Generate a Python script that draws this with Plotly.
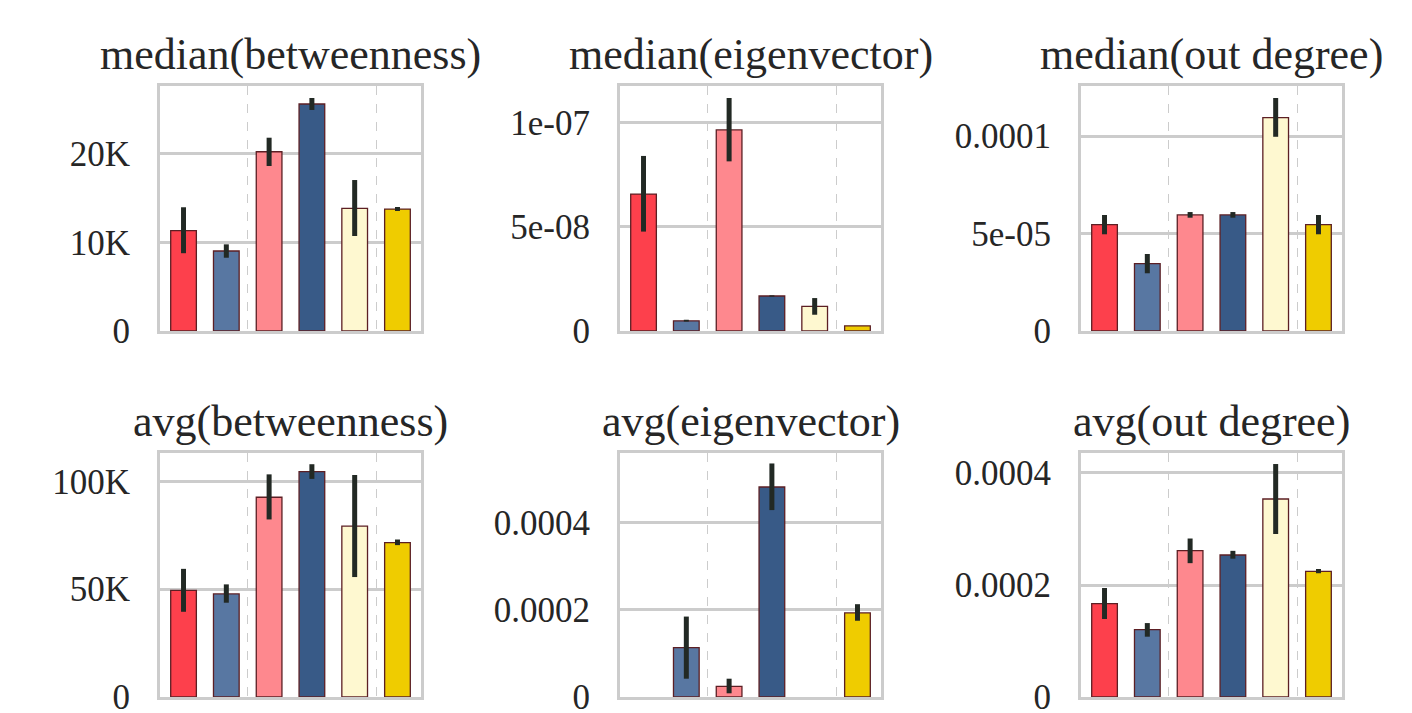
import plotly.graph_objects as go

W, H = 1412, 713

titles = ["median(betweenness)", "median(eigenvector)", "median(out degree)",
          "avg(betweenness)", "avg(eigenvector)", "avg(out degree)"]

bar_colors = ["#fd404c", "#5877a2", "#fe888e", "#385a87", "#fef8d0", "#efcc00"]
categories = [0, 1, 2, 3, 4, 5]

# values, CI lower, CI upper per panel
med_btw = [11310, 9020, 20210, 25590, 13830, 13750]
med_btw_lo = [8770, 8260, 18600, 24920, 10710, 13530]
med_btw_hi = [13950, 9770, 21790, 26270, 17020, 13980]

med_eig = [6.57e-8, 4.9e-9, 9.65e-8, 1.68e-8, 1.185e-8, 2.5e-9]
med_eig_lo = [4.77e-8, 4.5e-9, 8.14e-8, 1.65e-8, 7.8e-9, 2.5e-9]
med_eig_hi = [8.40e-8, 5.4e-9, 1.118e-7, 1.71e-8, 1.58e-8, 2.5e-9]

med_out = [5.45e-5, 3.45e-5, 5.95e-5, 5.95e-5, 1.094e-4, 5.45e-5]
med_out_lo = [4.96e-5, 2.96e-5, 5.81e-5, 5.81e-5, 9.96e-5, 4.96e-5]
med_out_hi = [5.95e-5, 3.95e-5, 6.10e-5, 6.10e-5, 1.195e-4, 5.95e-5]

avg_btw = [49400, 47800, 92600, 104500, 79200, 71600]
avg_btw_lo = [39500, 43700, 82300, 101100, 55600, 70400]
avg_btw_hi = [59400, 52200, 103200, 107900, 102900, 73000]

avg_eig = [0, 1.133e-4, 2.46e-5, 4.82e-4, 0, 1.93e-4]
avg_eig_lo = [0, 4.2e-5, 8.5e-6, 4.29e-4, 0, 1.75e-4]
avg_eig_hi = [0, 1.846e-4, 4.2e-5, 5.36e-4, 0, 2.13e-4]

avg_out = [1.666e-4, 1.202e-4, 2.613e-4, 2.536e-4, 3.536e-4, 2.245e-4]
avg_out_lo = [1.393e-4, 1.077e-4, 2.39e-4, 2.47e-4, 2.91e-4, 2.21e-4]
avg_out_hi = [1.946e-4, 1.32e-4, 2.83e-4, 2.61e-4, 4.16e-4, 2.286e-4]

ytick_vals = [[0, 10000, 20000], [0, 5e-8, 1e-7], [0, 5e-5, 1e-4],
              [0, 50000, 100000], [0, 2e-4, 4e-4], [0, 2e-4, 4e-4]]
ytick_text = [["0", "10K", "20K"], ["0", "5e-08", "1e-07"], ["0", "5e-05", "0.0001"],
              ["0", "50K", "100K"], ["0", "0.0002", "0.0004"], ["0", "0.0002", "0.0004"]]
y_max = [27620, 1.1756e-7, 1.2564e-4, 113100, 5.6e-4, 4.357e-4]

panels = [(med_btw, med_btw_lo, med_btw_hi), (med_eig, med_eig_lo, med_eig_hi),
          (med_out, med_out_lo, med_out_hi), (avg_btw, avg_btw_lo, avg_btw_hi),
          (avg_eig, avg_eig_lo, avg_eig_hi), (avg_out, avg_out_lo, avg_out_hi)]

xdom = [[160 / W, 421 / W], [620 / W, 881 / W], [1081 / W, 1342 / W]]
ydom = [[(H - 331) / H, (H - 86) / H], [(H - 697) / H, (H - 453) / H]]
title_y = [(H - 54) / H, (H - 422) / H]

FONT = "Liberation Serif"
GRID = "#cccccc"

fig = go.Figure()
layout = dict(width=W, height=H, margin=dict(l=0, r=0, t=0, b=0, autoexpand=False),
              paper_bgcolor="white", plot_bgcolor="white", showlegend=False,
              font=dict(family=FONT, color="#262626"), annotations=[])

for i, (vals, lo, hi) in enumerate(panels):
    r, c = divmod(i, 3)
    ax = "" if i == 0 else str(i + 1)
    fig.add_trace(go.Bar(
        x=categories, y=vals, width=0.6,
        marker=dict(color=bar_colors,
                    line=dict(color="#5c1f24", width=[0 if v == 0 else 1.3 for v in vals])),
        error_y=dict(type="data", symmetric=False,
                     array=[h - v for h, v in zip(hi, vals)],
                     arrayminus=[v - l for v, l in zip(vals, lo)],
                     thickness=5, width=0, color="#222924"),
        xaxis="x" + ax, yaxis="y" + ax, hoverinfo="skip"))
    layout["xaxis" + ax] = dict(
        domain=xdom[c], anchor="y" + ax, range=[-0.55, 5.55], automargin=False,
        tickvals=[1.5, 4.5], showticklabels=False, ticks="",
        showgrid=True, gridcolor=GRID, gridwidth=1, griddash="dash",
        zeroline=False, showline=True, mirror=True, linecolor=GRID, linewidth=3)
    layout["yaxis" + ax] = dict(
        domain=ydom[r], anchor="x" + ax, range=[0, y_max[i]], automargin=False,
        tickvals=ytick_vals[i], ticktext=ytick_text[i], ticks="",
        ticklabeloverflow="allow",
        ticklabelstandoff=20, tickfont=dict(family=FONT, size=35, color="#262626"),
        showgrid=True, gridcolor=GRID, gridwidth=2.5,
        zeroline=False, showline=True, mirror=True, linecolor=GRID, linewidth=3)
    layout["annotations"].append(dict(
        text=titles[i], x=(xdom[c][0] + xdom[c][1]) / 2, y=title_y[r],
        xref="paper", yref="paper", xanchor="center", yanchor="middle",
        showarrow=False, font=dict(family=FONT, size=44, color="#262626")))

fig.update_layout(**layout)
fig.write_html("out.html", config={"displayModeBar": False},
               post_script="document.body.style.margin='0';document.body.style.overflow='hidden';")
